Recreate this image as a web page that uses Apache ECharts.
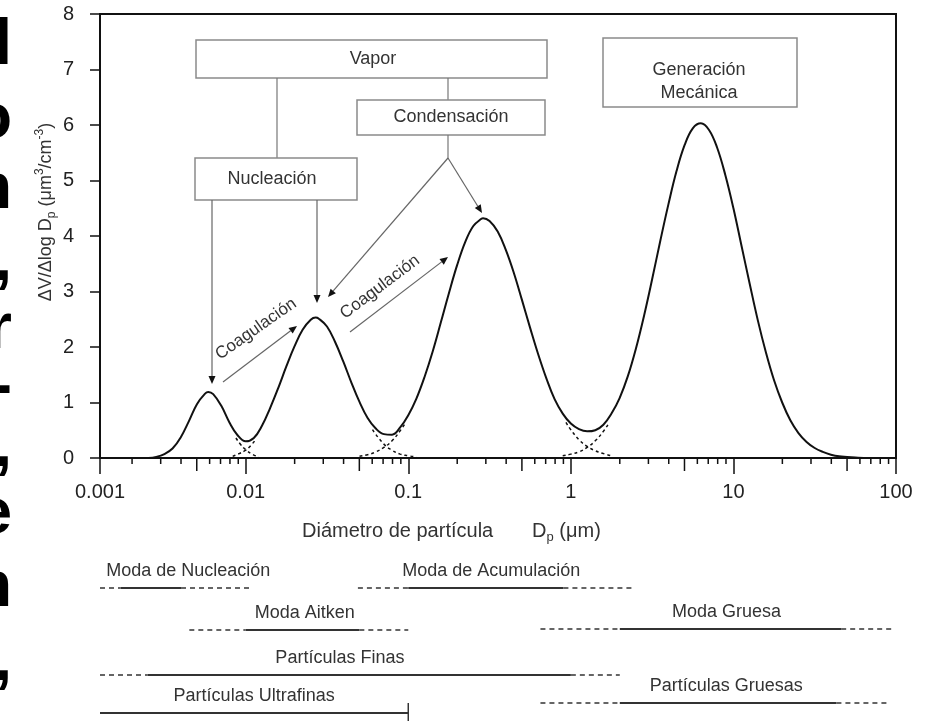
<!DOCTYPE html>
<html>
<head>
<meta charset="UTF-8">
<title>Distribución de volumen por tamaño de partícula</title>
<script src="https://cdn.jsdelivr.net/npm/echarts@6/dist/echarts.min.js"></script>
<style>
  * {margin: 0; padding: 0;}
  body {background: #fff;}
  #chart {width: 926px; height: 721px;}
</style>
</head>
<body>
<div id="chart"></div>
<script>
// curva total: diámetro (µm) y ΔV/Δlog Dp
var diam = [0.002512,0.002818,0.003162,0.003548,0.003981,0.004467,0.005012,0.005623,0.005888,0.00631,
            0.007079,0.007943,0.008913,0.01,0.01122,0.01259,0.01413,0.01585,0.01778,0.01995,
            0.02239,0.02512,0.02692,0.02818,0.03162,0.03548,0.03981,0.04467,0.05012,0.05623,
            0.0631,0.07079,0.07943,0.08913,0.1,0.1122,0.1259,0.1413,0.1585,0.1778,
            0.1995,0.2239,0.2512,0.2818,0.2884,0.3162,0.3548,0.3981,0.4467,0.5012,
            0.5623,0.631,0.7079,0.7943,0.8913,1,1.122,1.259,1.413,1.585,
            1.778,1.995,2.239,2.512,2.818,3.162,3.548,3.981,4.467,5.012,
            5.623,6.31,7.079,7.943,8.913,10,11.22,12.59,14.13,15.85,
            17.78,19.95,22.39,25.12,28.18,31.62,35.48,39.81,44.67,50.12,56.23,63.1];
var dvdlog = [0.00,0.02,0.07,0.17,0.37,0.66,0.97,1.16,1.19,1.15,
              0.94,0.64,0.41,0.30,0.36,0.58,0.90,1.26,1.65,2.01,
              2.31,2.49,2.53,2.51,2.37,2.09,1.74,1.36,1.01,0.72,
              0.53,0.43,0.42,0.55,0.77,1.07,1.46,1.92,2.44,2.97,
              3.47,3.89,4.18,4.31,4.32,4.27,4.08,3.75,3.33,2.84,
              2.34,1.86,1.43,1.06,0.80,0.62,0.52,0.48,0.50,0.60,
              0.80,1.08,1.47,1.97,2.56,3.22,3.91,4.57,5.17,5.64,
              5.94,6.03,5.91,5.59,5.10,4.50,3.82,3.14,2.48,1.90,
              1.40,1.00,0.68,0.45,0.29,0.18,0.11,0.06,0.03,0.02,0.01,0.00];

// colas punteadas de cada moda en los mínimos
var tailNucD = [0.00871,0.00933,0.01,0.01096,0.01202];
var tailNucV = [0.36,0.24,0.15,0.07,0.02];
var tailAitLeftD = [0.00832,0.00912,0.01,0.01072,0.01148];
var tailAitLeftV = [0.03,0.08,0.14,0.22,0.33];
var tailAitRightD = [0.06026,0.07079,0.07943,0.08913,0.1,0.1122];
var tailAitRightV = [0.51,0.25,0.14,0.07,0.04,0.02];
var tailAccLeftD = [0.05012,0.05623,0.0631,0.07079,0.07943,0.08913,0.0955];
var tailAccLeftV = [0.03,0.06,0.11,0.19,0.31,0.49,0.62];
var tailAccRightD = [0.9333,1,1.122,1.259,1.413,1.585,1.778];
var tailAccRightV = [0.64,0.51,0.33,0.21,0.13,0.08,0.04];
var tailCoaLeftD = [0.8913,1,1.122,1.259,1.413,1.585,1.698];
var tailCoaLeftV = [0.04,0.07,0.11,0.19,0.31,0.48,0.61];

// eje x
var xMin = 0.00127, xMax = 100;
var xTickLabels = ['0.001','0.01','0.1','1','10','100'];
var decades = [0.001,0.01,0.1,1,10];
var minorMult = [2,3,4,5,6,7,8,9];

// rangos de tamaño (µm): tramo punteado, tramo continuo, tramo punteado
var rangeNames = ['Moda de Nucleación','Moda de Acumulación','Moda Aitken','Moda Gruesa',
                  'Partículas Finas','Partículas Gruesas','Partículas Ultrafinas'];
var rangeFrom = [0.00127,0.049,0.0045,0.65,0.00127,0.65,0.00127];
var solidFrom = [0.0017,0.1,0.01,2,0.0025,2,0.00127];
var solidTo   = [0.004,0.9,0.05,46,1,43,0.1];
var rangeTo   = [0.011,2.4,0.1,98,2,92,0.1];

// posición de cada fila (px dentro de la franja inferior) y ajuste de etiqueta
var rowY = [48,48,90,89,135,163,173];
var labelDx = [12,-4,6,9,-20,11,0];

var FONT = '"Liberation Sans", Arial, sans-serif';
var INK = '#111';
var TXT = '#333';

var minorTicks = [];
decades.forEach(function(d){
  minorMult.forEach(function(m){ minorTicks.push([d*m, m]); });
});

function pairs(xs, ys){ return xs.map(function(x, i){ return [x, ys[i]]; }); }

function tail(xs, ys){
  return {
    type: 'line', xAxisIndex: 0, yAxisIndex: 0, data: pairs(xs, ys),
    smooth: true, showSymbol: false, silent: true, z: 2,
    lineStyle: {color: INK, width: 1.5, type: [3, 3]}
  };
}

// flecha en coordenadas de pantalla
function arrow(x1, y1, x2, y2){
  var a = Math.atan2(y2 - y1, x2 - x1), L = 8, W = 3.5;
  var bx = x2 - L*Math.cos(a), by = y2 - L*Math.sin(a);
  return [
    {type:'line', shape:{x1:x1,y1:y1,x2:bx,y2:by}, style:{stroke:'#666', lineWidth:1.2}},
    {type:'polygon', shape:{points:[[x2,y2],[bx - W*Math.sin(a), by + W*Math.cos(a)],[bx + W*Math.sin(a), by - W*Math.cos(a)]]},
     style:{fill:'#111'}}
  ];
}
function box(x, y, w, h){
  return {type:'rect', shape:{x:x,y:y,width:w,height:h}, style:{fill:'#fff', stroke:'#8a8a8a', lineWidth:1.5}};
}
function label(x, y, t, size, rot){
  return {type:'text', x:x, y:y, rotation:(rot||0)*Math.PI/180,
          style:{text:t, align:'center', verticalAlign:'middle', textAlign:'center', textVerticalAlign:'middle',
                 fill:TXT, font:(size||18)+'px '+FONT}};
}
function seg(x1, y1, x2, y2){
  return {type:'line', shape:{x1:x1,y1:y1,x2:x2,y2:y2}, style:{stroke:'#777', lineWidth:1.2}};
}

var edgeGlyphs = [['l',46],['o',120],['n',190],[',',262],['r',330],['-',388],[',',448],['e',515],['n',588],[',',662]];

var graphics = [
  box(196,40,351,38), label(373,59,'Vapor'),
  seg(277,78,277,158), seg(448,78,448,100),
  box(357,100,188,35), label(451,117,'Condensación'),
  seg(448,135,448,158),
  box(195,158,162,42), label(272,179,'Nucleación'),
  box(603,38,194,69), label(699,70,'Generación'), label(699,93,'Mecánica'),
  label(256,329,'Coagulación',17,35), label(380,287,'Coagulación',17,37),
  {type:'text', x:46, y:212, rotation:Math.PI/2,
   style:{text:'{a|ΔV/Δlog D}{s|p}{a| (μm}{u|3}{a|/cm}{u|-3}{a|)}', align:'center', verticalAlign:'middle',
          textAlign:'center', textVerticalAlign:'middle',
          rich:{a:{fontSize:18, fontFamily:FONT, fill:TXT, color:TXT, lineHeight:24},
                s:{fontSize:12, fontFamily:FONT, fill:TXT, color:TXT, lineHeight:24, verticalAlign:'bottom'},
                u:{fontSize:12, fontFamily:FONT, fill:TXT, color:TXT, lineHeight:24, verticalAlign:'top'}}}},
  {type:'text', x:302, y:531,
   style:{text:'{a|Diámetro de partícula       D}{s|p}{a| (μm)}', align:'left', verticalAlign:'middle',
          textAlign:'left', textVerticalAlign:'middle',
          rich:{a:{fontSize:20, fontFamily:FONT, fill:TXT, color:TXT, lineHeight:26},
                s:{fontSize:13, fontFamily:FONT, fill:TXT, color:TXT, lineHeight:26, verticalAlign:'bottom'}}}}
];
graphics = graphics.concat(arrow(212,200,212,384), arrow(317,200,317,303),
                           arrow(448,158,328,297), arrow(448,158,482,213),
                           arrow(223,382,297,326), arrow(350,332,448,257));
edgeGlyphs.forEach(function(g){
  graphics.push({type:'text', x:12, y:g[1],
    style:{text:g[0], align:'right', verticalAlign:'middle', textAlign:'right', textVerticalAlign:'middle',
           fill:'#000', font:'bold 64px '+FONT}});
});

var chart = echarts.init(document.getElementById('chart'));
var option = {
  backgroundColor: '#fff',
  animation: false,
  grid: [
    {left: 100, right: 30, top: 14, height: 444, show: true, borderColor: INK, borderWidth: 2, backgroundColor: 'transparent'},
    {left: 100, right: 30, top: 540, height: 181}
  ],
  xAxis: [
    {type: 'log', logBase: 10, min: xMin, max: xMax, gridIndex: 0,
     axisLine: {onZero: false, lineStyle: {color: INK, width: 2}},
     axisTick: {length: 16, lineStyle: {color: INK, width: 1.5}},
     axisLabel: {fontSize: 20, color: '#222', fontFamily: FONT, margin: 24,
                 formatter: function(v){ var k = Math.round(Math.log10(v)) + 3; return xTickLabels[Math.max(0, k)]; }},
     splitLine: {show: false}},
    {type: 'log', logBase: 10, min: xMin, max: xMax, gridIndex: 1, show: false}
  ],
  yAxis: [
    {type: 'value', min: 0, max: 8, interval: 1, gridIndex: 0,
     axisLine: {show: true, lineStyle: {color: INK, width: 2}},
     axisTick: {show: true, length: 10, lineStyle: {color: INK, width: 1.5}},
     axisLabel: {fontSize: 20, color: '#222', fontFamily: FONT, margin: 26},
     splitLine: {show: false}},
    {type: 'value', min: 0, max: 181, inverse: true, gridIndex: 1, show: false}
  ],
  graphic: graphics,
  series: [
    tail(tailNucD, tailNucV), tail(tailAitLeftD, tailAitLeftV),
    tail(tailAitRightD, tailAitRightV), tail(tailAccLeftD, tailAccLeftV),
    tail(tailAccRightD, tailAccRightV), tail(tailCoaLeftD, tailCoaLeftV),
    {type: 'line', xAxisIndex: 0, yAxisIndex: 0, data: pairs(diam, dvdlog),
     smooth: 0.4, showSymbol: false, silent: true, z: 3,
     lineStyle: {color: INK, width: 2}},
    {type: 'custom', xAxisIndex: 0, yAxisIndex: 0, silent: true, clip: false,
     data: minorTicks.map(function(t){ return [t[0], 0, t[1]]; }),
     encode: {x: 0, y: 1},
     renderItem: function(params, api){
       var p = api.coord([api.value(0), 0]);
       var len = api.value(2) === 5 ? 13 : 6;
       return {type: 'line', shape: {x1: p[0], y1: p[1], x2: p[0], y2: p[1] + len},
               style: {stroke: INK, lineWidth: 1.5}};
     }},
    {type: 'custom', xAxisIndex: 1, yAxisIndex: 1, silent: true, clip: false,
     data: rangeNames.map(function(n, i){ return [rangeFrom[i], solidFrom[i], solidTo[i], rangeTo[i], rowY[i]]; }),
     encode: {x: [0, 1, 2, 3], y: 4},
     renderItem: function(params, api){
       var i = params.dataIndex, y = api.value(4);
       var p0 = api.coord([api.value(0), y]), p1 = api.coord([api.value(1), y]);
       var p2 = api.coord([api.value(2), y]), p3 = api.coord([api.value(3), y]);
       var mid = api.coord([Math.sqrt(api.value(0) * api.value(3)), y]);
       var kids = [];
       var dash = {stroke: TXT, lineWidth: 1.5, lineDash: [5, 4]};
       if (p1[0] - p0[0] > 1) kids.push({type: 'line', shape: {x1: p0[0], y1: p0[1], x2: p1[0], y2: p1[1]}, style: dash});
       kids.push({type: 'line', shape: {x1: p1[0], y1: p1[1], x2: p2[0], y2: p2[1]}, style: {stroke: TXT, lineWidth: 2}});
       if (p3[0] - p2[0] > 1) kids.push({type: 'line', shape: {x1: p2[0], y1: p2[1], x2: p3[0], y2: p3[1]}, style: dash});
       else kids.push({type: 'line', shape: {x1: p2[0], y1: p2[1] - 10, x2: p2[0], y2: p2[1] + 10}, style: {stroke: TXT, lineWidth: 1.5}});
       kids.push({type: 'text', style: {text: rangeNames[i], x: mid[0] + labelDx[i], y: p0[1] - 17,
                  align: 'center', verticalAlign: 'middle', fill: TXT, fontSize: 18, fontFamily: FONT}});
       return {type: 'group', children: kids};
     }}
  ]
};
chart.setOption(option);
</script>
</body>
</html>
